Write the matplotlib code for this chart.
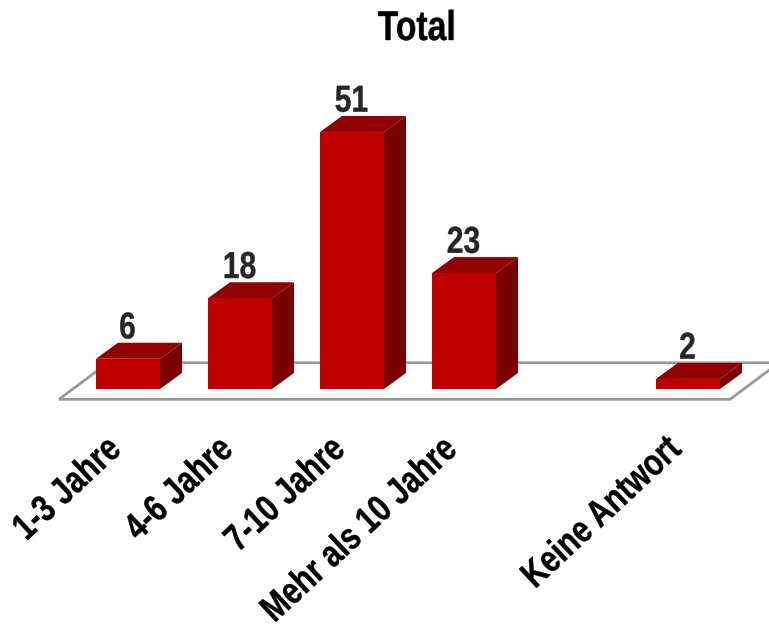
import matplotlib
matplotlib.use("Agg")
import matplotlib.pyplot as plt
from matplotlib.patches import Polygon
from matplotlib.patheffects import AbstractPathEffect
from matplotlib.transforms import Affine2D

categories = ["1-3 Jahre", "4-6 Jahre", "7-10 Jahre", "Mehr als 10 Jahre", "", "Keine Antwort"]
values = [6, 18, 51, 23, None, 2]

plt.rcParams['font.family'] = ['Liberation Sans']
plt.rcParams['font.weight'] = 'bold'


class Narrow(AbstractPathEffect):
    # squeeze the text along its own direction, the font in the original is a narrow one
    def __init__(self, sx=0.8, anchor=0.5, stroke=0.3):
        super().__init__()
        self.sx = sx
        self.anchor = anchor
        self.stroke = stroke

    def draw_path(self, renderer, gc, tpath, affine, rgbFace=None):
        ext = tpath.get_extents()
        x0 = ext.x0 + self.anchor * ext.width
        squeeze = Affine2D().translate(-x0, 0).scale(self.sx, 1).translate(x0, 0)
        gc0 = renderer.new_gc()
        gc0.copy_properties(gc)
        gc0.set_linewidth(self.stroke)
        gc0.set_foreground(rgbFace)
        renderer.draw_path(gc0, tpath, squeeze + affine, rgbFace)
        gc0.restore()


W, H = 769, 626
fig = plt.figure(figsize=(W / 100, H / 100), dpi=100)
ax = fig.add_axes([0, 0, 1, 1])

# one category = 112 px, one unit = 5.04 px, first bar centre at x=128, baseline at y=389
px_x = 112.0
px_y = 5.04
ax.set_xlim(-128 / px_x, (W - 128) / px_x)
ax.set_ylim(-(H - 389) / px_y, 389 / px_y)
ax.axis("off")

# depth of the fake 3d in data units
dx = 22 / px_x
dy = 16 / px_y
bar_w = 64 / px_x

# floor
fx0, fx1 = -69 / px_x, 602 / px_x
fy0 = -10.3 / px_y
fdx, fdy = 49 / px_x, 36.5 / px_y
floor = [(fx0, fy0), (fx1, fy0), (fx1 + fdx, fy0 + fdy), (fx0 + fdx, fy0 + fdy)]
ax.add_patch(Polygon(floor, closed=True, fill=False, ec="#999999", lw=2, joinstyle="miter", zorder=1))

positions = list(range(len(categories)))
for x, v in zip(positions, values):
    if v is None:
        continue
    l, r = x - bar_w / 2, x + bar_w / 2
    front = [(l, 0), (r, 0), (r, v), (l, v)]
    top = [(l, v), (r, v), (r + dx, v + dy), (l + dx, v + dy)]
    side = [(r, 0), (r + dx, dy), (r + dx, v + dy), (r, v)]
    ax.add_patch(Polygon(side, closed=True, fc="#7a0000", ec="none", zorder=3))
    ax.add_patch(Polygon(top, closed=True, fc="#900000", ec="none", zorder=3))
    ax.add_patch(Polygon(front, closed=True, fc="#c00000", ec="none", zorder=4))
    ax.text(x - 0.005, v + dy + 0.85, str(v), ha="center", va="baseline",
            fontsize=27, color="#262626", zorder=5, path_effects=[Narrow(0.8)])

for x, c in zip(positions, categories):
    ax.text(x - 0.215, -8.3, c, rotation=43, rotation_mode="anchor", ha="right", va="top",
            fontsize=27, color="black", path_effects=[Narrow(0.8, anchor=1.0)])

ax.text(417 / W, 1 - 29 / H, "Total", transform=ax.transAxes, ha="center", va="center",
        fontsize=30, color="black", path_effects=[Narrow(0.81)])

fig.savefig("out.png", dpi=100)
